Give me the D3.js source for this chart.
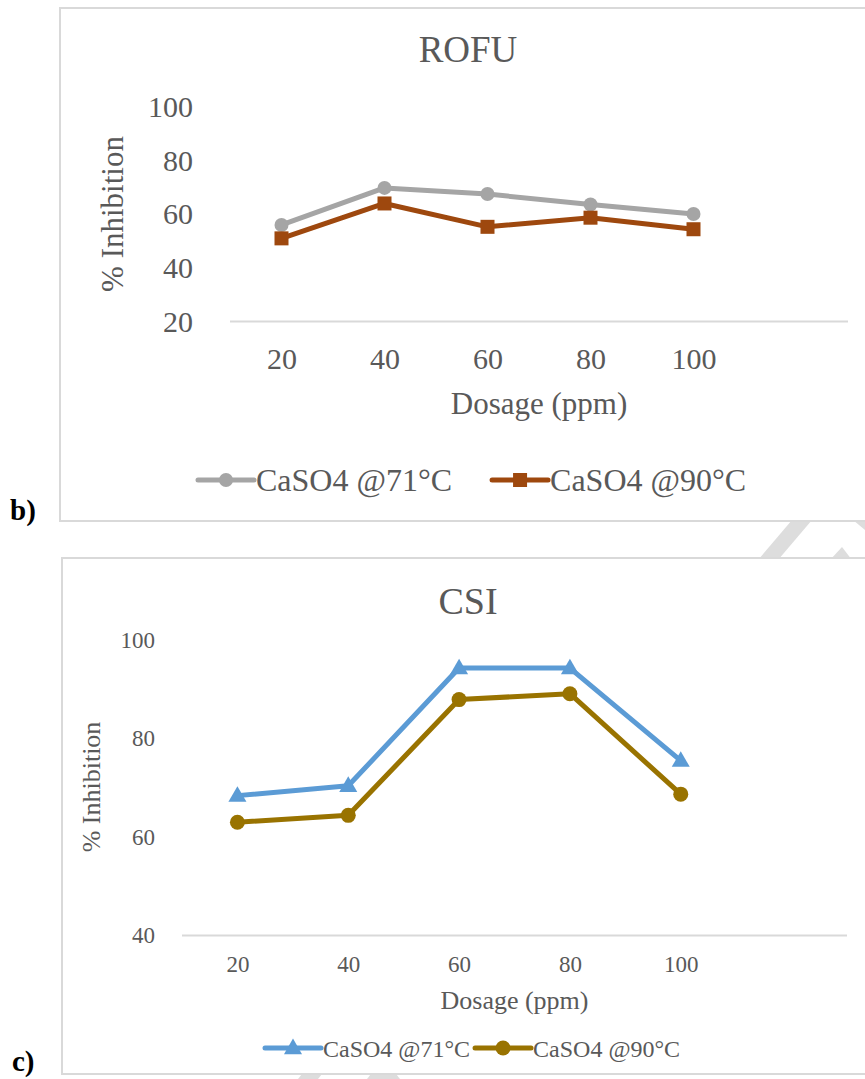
<!DOCTYPE html>
<html>
<head>
<meta charset="utf-8">
<script src="https://cdn.jsdelivr.net/npm/d3@7"></script>
<style>
  body { margin: 0; background: #fff; }
  svg { display: block; font-family: "Liberation Serif", "Times New Roman", serif; }
  .axis text { fill: #595959; }
</style>
</head>
<body>
<svg id="chart" width="865" height="1079"></svg>
<script>
// dosage categories (Excel left an empty 6th slot on the axis)
const dosages = ["20", "40", "60", "80", "100"];
const slots = [...dosages, ""];

// ROFU panel
const rofu71 = [56, 69.8, 67.5, 63.6, 60.1];
const rofu90 = [51, 64, 55.3, 58.7, 54.4];
const rofuTicks = [20, 40, 60, 80, 100];

// CSI panel
const csi71 = [68.4, 70.4, 94.3, 94.3, 75.5];
const csi90 = [63.0, 64.4, 87.9, 89.1, 68.7];
const csiTicks = [40, 60, 80, 100];

const seriesNames = ["CaSO4 @71°C", "CaSO4 @90°C"];

const svg = d3.select("#chart");
const textColor = "#595959";
const axisColor = "#D9D9D9";

// faint watermark fragments showing between the panels
const watermark = svg.append("g").attr("fill", "#DDDDDD");
[
  [[758, 560], [778, 560], [812, 520], [792, 520]],
  [[830, 560], [852, 560], [842, 547]],
  [[853, 520], [865, 520], [865, 530]],
  [[298, 1079], [318, 1079], [322, 1074], [302, 1074]],
  [[367, 1079], [400, 1079], [396, 1074], [371, 1074]]
].forEach((pts) => watermark.append("polygon").attr("points", pts.join(" ")));

function marker(g, type, x, y, color, size) {
  if (type === "circle") {
    g.append("circle").attr("cx", x).attr("cy", y).attr("r", size / 2).attr("fill", color);
  } else if (type === "square") {
    g.append("rect")
      .attr("x", x - size / 2).attr("y", y - size / 2)
      .attr("width", size).attr("height", size).attr("fill", color);
  } else {
    const sym = d3.symbol().type(d3.symbolTriangle).size(size * size * 0.55);
    g.append("path").attr("d", sym()).attr("transform", `translate(${x},${y + 1})`).attr("fill", color);
  }
}

function drawPanel(p) {
  const g = svg.append("g");

  g.append("rect")
    .attr("x", p.box[0]).attr("y", p.box[1])
    .attr("width", p.box[2]).attr("height", p.box[3])
    .attr("fill", "#fff").attr("stroke", axisColor).attr("stroke-width", 2);

  g.append("text")
    .attr("x", p.label[0]).attr("y", p.label[1])
    .attr("font-weight", "bold").attr("font-size", p.labelSize)
    .attr("fill", "#000").text(p.labelText);

  const x = d3.scalePoint().domain(slots).range(p.xRange).padding(0.5);
  const y = d3.scaleLinear().domain(p.yDomain).range(p.yRange);

  g.append("text")
    .attr("x", 468).attr("y", p.titleY)
    .attr("text-anchor", "middle").attr("font-size", p.titleSize)
    .attr("fill", textColor).text(p.title);

  const xAxis = g.append("g")
    .attr("class", "axis")
    .attr("transform", `translate(0,${p.yRange[0]})`)
    .call(d3.axisBottom(x).tickSize(0).tickPadding(p.xPad).tickSizeOuter(0))
    .attr("font-family", null)
    .attr("font-size", p.tickSize);
  xAxis.select(".domain").attr("stroke", axisColor).attr("stroke-width", 2)
    .attr("d", `M${p.xRange[0]},0H${p.xRange[1]}`);

  const yAxis = g.append("g")
    .attr("class", "axis")
    .attr("transform", `translate(${p.xRange[0]},0)`)
    .call(d3.axisLeft(y).tickValues(p.ticks).tickSize(0).tickPadding(p.yPad))
    .attr("font-family", null)
    .attr("font-size", p.tickSize);
  yAxis.select(".domain").remove();

  g.append("text")
    .attr("x", (p.xRange[0] + p.xRange[1]) / 2).attr("y", p.xTitleY)
    .attr("text-anchor", "middle").attr("font-size", p.axisTitleSize)
    .attr("fill", textColor).text("Dosage (ppm)");

  g.append("text")
    .attr("transform", `translate(${p.yTitle[0]},${p.yTitle[1]}) rotate(-90)`)
    .attr("text-anchor", "middle").attr("font-size", p.axisTitleSize)
    .attr("fill", textColor).text("% Inhibition");

  const line = d3.line().x((d, i) => x(dosages[i])).y((d) => y(d));

  p.series.forEach((s) => {
    g.append("path")
      .datum(s.values)
      .attr("d", line)
      .attr("fill", "none").attr("stroke", s.color)
      .attr("stroke-width", p.lineWidth).attr("stroke-linejoin", "round");
    s.values.forEach((v, i) => marker(g, s.marker, x(dosages[i]), y(v), s.color, s.markerSize));
  });

  // legend
  const leg = g.append("g");
  let cx = p.legendX;
  p.series.forEach((s, i) => {
    leg.append("line")
      .attr("x1", cx).attr("x2", cx + 56)
      .attr("y1", p.legendY).attr("y2", p.legendY)
      .attr("stroke", s.color).attr("stroke-width", p.lineWidth).attr("stroke-linecap", "round");
    marker(leg, s.marker, cx + 28, p.legendY, s.color, s.markerSize);
    const t = leg.append("text")
      .attr("x", cx + 58).attr("y", p.legendBase)
      .attr("font-size", p.legendSize).attr("fill", textColor)
      .text(seriesNames[i]);
    cx += 58 + t.node().getComputedTextLength() + p.legendGap;
  });
}

drawPanel({
  box: [60, 8, 830, 513],
  label: [10, 520], labelText: "b)", labelSize: 29,
  title: "ROFU", titleY: 62, titleSize: 37,
  xRange: [230, 848], yDomain: [20, 100], yRange: [321.6, 106.8],
  ticks: rofuTicks, tickSize: 30, xPad: 26, yPad: 37,
  xTitleY: 414, axisTitleSize: 31, yTitle: [123, 214],
  lineWidth: 5,
  series: [
    { values: rofu71, color: "#A5A5A5", marker: "circle", markerSize: 14 },
    { values: rofu90, color: "#9E480E", marker: "square", markerSize: 14 }
  ],
  legendX: 198, legendY: 480, legendBase: 491, legendSize: 32, legendGap: 40
});

drawPanel({
  box: [62, 558, 830, 516],
  label: [12, 1071], labelText: "c)", labelSize: 29,
  title: "CSI", titleY: 614, titleSize: 38,
  xRange: [182, 847], yDomain: [40, 100], yRange: [935.5, 640],
  ticks: csiTicks, tickSize: 23, xPad: 20, yPad: 27,
  xTitleY: 1009, axisTitleSize: 26, yTitle: [100, 787],
  lineWidth: 5,
  series: [
    { values: csi71, color: "#5B9BD5", marker: "triangle", markerSize: 16 },
    { values: csi90, color: "#997300", marker: "circle", markerSize: 15 }
  ],
  legendX: 265, legendY: 1048, legendBase: 1057, legendSize: 24, legendGap: 5
});
</script>
</body>
</html>
